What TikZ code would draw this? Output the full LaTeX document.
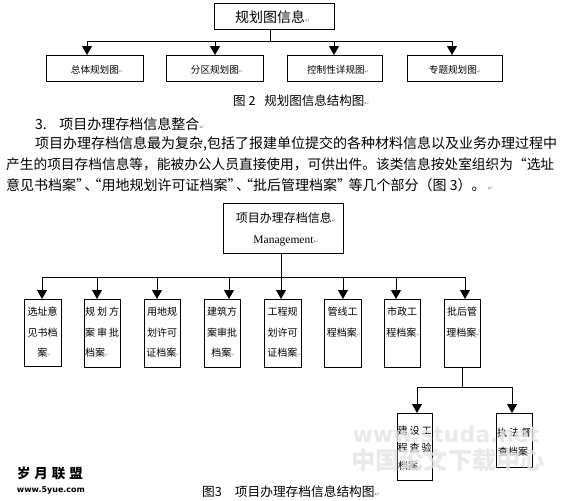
\documentclass[tikz,border=0pt]{standalone}
\usepackage{fontspec}
\setmainfont{Liberation Serif}
\newfontfamily\cjk{Noto Sans CJK SC}
\newfontfamily\djv{DejaVu Sans}
\usetikzlibrary{arrows.meta}
\newcommand\pmk[1][6]{{\djv\fontsize{#1}{#1}\selectfont\color{gray}↵}}
\newcommand\spr[1]{\makebox[34pt][s]{#1}}
\newcommand\ql{\makebox[8.5pt][r]{“}}
\newcommand\qr{\makebox[8.5pt][l]{”}}
\newcommand\dn{\makebox[8.5pt][l]{、}}
\tikzset{
  bx/.style={draw, line width=1pt, inner sep=0pt, anchor=north west},
  ln/.style={line width=1pt},
  arr/.style={line width=1pt, -{Triangle[width=10pt,length=9pt]}},
  para/.style={anchor=west, inner sep=0pt, font=\cjk\fontsize{14}{14}\selectfont},
  captxt/.style={anchor=west, inner sep=0pt, font=\cjk\fontsize{12.5}{12.5}\selectfont},
  sm/.style={inner sep=0pt, font=\cjk\fontsize{9.6}{10}\selectfont},
  bt/.style={inner sep=0pt, font=\cjk\fontsize{10}{10}\selectfont},
  btl/.style={bt, anchor=west},
  wm/.style={inner sep=0pt, text=gray!22, opacity=0.8}
}
\begin{document}
\begin{tikzpicture}[x=1pt,y=-1pt]
\useasboundingbox (0,0) rectangle (563,501);

% ---------- Figure 2 ----------
\node[bx, minimum width=120pt, minimum height=26pt] (f2top) at (214,3) {};
\node[anchor=west, inner sep=0pt, font=\cjk\fontsize{14}{14}\selectfont] (f2toptx) at (235,17) {规划图信息\pmk};
\node[bx, minimum width=97pt, minimum height=26pt] (f2b1) at (46,55) {};
\node[bx, minimum width=97pt, minimum height=26pt] (f2b2) at (166,55) {};
\node[bx, minimum width=95pt, minimum height=26pt] (f2b3) at (287,55) {};
\node[bx, minimum width=95pt, minimum height=26pt] (f2b4) at (407,55) {};
\node[sm] (f2t1) at (97,70) {总体规划图\pmk[5]};
\node[sm] (f2t2) at (217,70) {分区规划图\pmk[5]};
\node[sm] (f2t3) at (338,70) {控制性详规图\pmk[5]};
\node[sm] (f2t4) at (455,70) {专题规划图\pmk[5]};
\coordinate (f2j) at (270,41);
\coordinate (f2a1) at (87,41);
\coordinate (f2a2) at (215,41);
\coordinate (f2a3) at (334,41);
\coordinate (f2a4) at (452,41);
\draw[ln] (f2top.south -| f2j) -- (f2j);
\draw[ln] (f2a1) -- (f2a4);
\draw[arr] (f2a1) -- (f2a1 |- f2b1.north);
\draw[arr] (f2a2) -- (f2a2 |- f2b2.north);
\draw[arr] (f2a3) -- (f2a3 |- f2b3.north);
\draw[arr] (f2a4) -- (f2a4 |- f2b4.north);
\node[captxt] (cap2) at (233,101) {图 2\hspace{9pt}规划图信息结构图\pmk};

% ---------- Text ----------
\node[para] (p1) at (35,124) {3.\hspace{12.5pt}项目办理存档信息整合\pmk};
\node[para] (p2) at (35,144) {项目办理存档信息最为复杂,包括了报建单位提交的各种材料信息以及业务办理过程中};
\node[para, font=\cjk\fontsize{13.7}{14}\selectfont] (p3) at (6,164) {产生的项目存档信息等，能被办公人员直接使用，可供出件。该类信息按处室组织为“选址};
\node[para] (p4) at (6,185) {意见书档案\qr\dn\ql 用地规划许可证档案\qr\dn\ql 批后管理档案\qr\hspace{3pt}等几个部分（图 3）。\,\pmk};

% ---------- Figure 3 ----------
\node[bx, minimum width=120pt, minimum height=50pt] (f3top) at (223,203) {};
\node[inner sep=0pt, font=\cjk\fontsize{12}{12}\selectfont] (f3t1) at (286,218) {项目办理存档信息\pmk[5]};
\node[inner sep=0pt, font=\fontsize{11.5}{12}\selectfont] (f3t2) at (286,241) {Management\pmk};

\node[bx, minimum width=37pt, minimum height=67pt] (g1) at (24,299) {};
\node[bx, minimum width=36pt, minimum height=68pt] (g2) at (84,299) {};
\node[bx, minimum width=36pt, minimum height=68pt] (g3) at (144,299) {};
\node[bx, minimum width=36pt, minimum height=68pt] (g4) at (204,299) {};
\node[bx, minimum width=37pt, minimum height=68pt] (g5) at (264,299) {};
\node[bx, minimum width=37pt, minimum height=68pt] (g6) at (324,299) {};
\node[bx, minimum width=36pt, minimum height=68pt] (g7) at (384,299) {};
\node[bx, minimum width=36pt, minimum height=68pt] (g8) at (444,299) {};

\node[bt] (g1r1) at (42.5,312) {选址意};
\node[bt] (g1r2) at (42.5,333) {见书档};
\node[bt] (g1r3) at (44,353) {案\pmk[4]};
\node[bt] (g2r1) at (102,312) {\spr{规\hfill 划\hfill 方}};
\node[bt] (g2r2) at (102,333) {\spr{案\hfill 审\hfill 批}};
\node[btl] (g2r3) at (85,353) {档案\pmk[4]};
\node[bt] (g3r1) at (162,312) {用地规};
\node[bt] (g3r2) at (162,333) {划许可};
\node[bt] (g3r3) at (163,353) {证档案\pmk[4]};
\node[bt] (g4r1) at (222,312) {建筑方};
\node[bt] (g4r2) at (222,333) {案审批};
\node[bt] (g4r3) at (223,353) {档案\pmk[4]};
\node[bt] (g5r1) at (282.5,312) {工程规};
\node[bt] (g5r2) at (282.5,333) {划许可};
\node[bt] (g5r3) at (284,353) {证档案\pmk[4]};
\node[bt] (g6r1) at (342.5,312) {管线工};
\node[bt] (g6r2) at (343.5,333) {程档案\pmk[4]};
\node[bt] (g7r1) at (402,312) {市政工};
\node[bt] (g7r2) at (403,333) {程档案\pmk[4]};
\node[bt] (g8r1) at (462,312) {批后管};
\node[bt] (g8r2) at (463,333) {理档案\pmk[4]};

\coordinate (f3j) at (281,277);
\coordinate (h1) at (42,277);
\coordinate (h2) at (97,277);
\coordinate (h3) at (157,277);
\coordinate (h4) at (229,277);
\coordinate (h5) at (281,277);
\coordinate (h6) at (343,277);
\coordinate (h7) at (396,277);
\coordinate (h8) at (465,277);
\draw[ln] (f3top.south -| f3j) -- (f3j);
\draw[ln] (h1) -- (h8);
\draw[arr] (h1) -- (h1 |- g1.north);
\draw[arr] (h2) -- (h2 |- g2.north);
\draw[arr] (h3) -- (h3 |- g3.north);
\draw[arr] (h4) -- (h4 |- g4.north);
\draw[arr] (h5) -- (h5 |- g5.north);
\draw[arr] (h6) -- (h6 |- g6.north);
\draw[arr] (h7) -- (h7 |- g7.north);
\draw[arr] (h8) -- (h8 |- g8.north);

% sub branch
\node[bx, minimum width=35pt, minimum height=67pt] (k1) at (397,413) {};
\node[bx, minimum width=36pt, minimum height=54pt] (k2) at (496,413) {};
\node[bt] (k1r1) at (414.5,431) {\spr{建\hfill 设\hfill 工}};
\node[bt] (k1r2) at (414.5,448) {\spr{程\hfill 查\hfill 验}};
\node[btl] (k1r3) at (398,466) {档案\pmk[4]};
\node[bt] (k2r1) at (514,433) {\spr{执\hfill 法\hfill 督}};
\node[btl] (k2r2) at (498,452) {查档案\pmk[4]};
\coordinate (sj) at (462,387);
\coordinate (s1) at (417,387);
\coordinate (s2) at (512,387);
\draw[ln] (g8.south -| sj) -- (sj);
\draw[ln] (s1) -- (s2);
\draw[arr] (s1) -- (s1 |- k1.north);
\draw[arr] (s2) -- (s2 |- k2.north);

\node[captxt, font=\cjk\fontsize{12.7}{12.7}\selectfont] (cap3) at (202,492) {图3\hspace{13pt}项目办理存档信息结构图\pmk};

% ---------- watermarks ----------
\node[wm] (wm1) at (446,434) {\resizebox{187pt}{!}{\djv\bfseries www.studa.net}};
\node[wm] (wm2) at (448,460) {\resizebox{193pt}{!}{\cjk\bfseries 中国论文下载中心}};
\node[inner sep=0pt, font=\cjk\bfseries\fontsize{13.5}{13.5}\selectfont] (wm3) at (50,473) {岁\hspace{4pt}月\hspace{4pt}联\hspace{4pt}盟};
\node[inner sep=0pt] (wm4) at (51,490) {\resizebox{68pt}{!}{\djv\bfseries www.5yue.com}};
\end{tikzpicture}
\end{document}
